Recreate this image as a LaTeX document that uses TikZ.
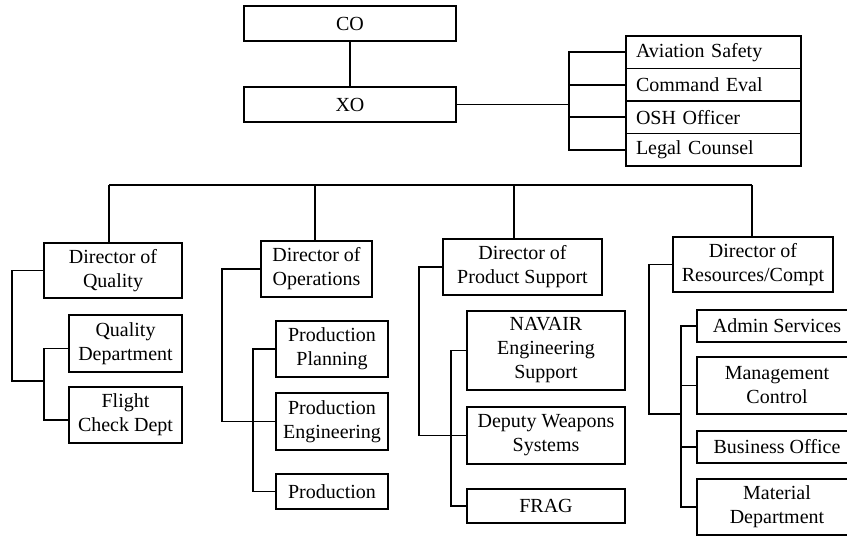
\documentclass[tikz,border=0pt]{standalone}
\usepackage{fontspec}
\setmainfont{Liberation Serif}
\begin{document}
\begin{tikzpicture}[x=1pt,y=-1pt,
  box/.style={draw, line width=1.7pt, inner sep=0pt, align=center, font=\fontsize{20}{24}\selectfont},
  staff/.style={box, text width=155pt, inner xsep=10pt, align=left, minimum height=32.5pt},
  ln/.style={line width=1.7pt}]
\useasboundingbox (0,0) rectangle (847,538);
% top
\node[box, minimum width=212pt, minimum height=35pt] (co) at (350,23.5) {CO};
\node[box, minimum width=212pt, minimum height=35pt] (xo) at (350,104.5) {XO};
\node[staff] (as) at (713.5,52.25) {Aviation Safety};
\node[staff] (ce) at (713.5,84.75) {Command Eval};
\node[staff] (osh) at (713.5,117.25) {OSH Officer};
\node[staff] (lc) at (713.5,149.75) {Legal Counsel};
\coordinate (sb) at (569,0);
\draw[ln] (co) -- (xo);
\draw[ln] (xo.east) -- (xo.east -| sb);
\draw[ln] (as.west) -- (as.west -| sb) -- (lc.west -| sb) -- (lc.west);
\draw[ln] (ce.west) -- (ce.west -| sb);
\draw[ln] (osh.west) -- (osh.west -| sb);
% directors
\node[box, minimum width=138pt, minimum height=55pt] (dq) at (113,270.5) {Director of\\Quality};
\node[box, minimum width=111pt, minimum height=56pt] (dop) at (316.5,269) {Director of\\Operations};
\node[box, minimum width=159pt, minimum height=56pt] (dps) at (522.5,267) {Director of\\Product Support};
\node[box, minimum width=160pt, minimum height=55pt] (dr) at (753,264.5) {Director of\\Resources/Compt};
\coordinate (b1) at (109,185);
\coordinate (b2) at (315,185);
\coordinate (b3) at (514,185);
\coordinate (b4) at (752,185);
\draw[ln] (b1) -- (b4);
\draw[ln] (b1) -- (b1 |- dq.north);
\draw[ln] (b2) -- (b2 |- dop.north);
\draw[ln] (b3) -- (b3 |- dps.north);
\draw[ln] (b4) -- (b4 |- dr.north);
% quality
\node[box, minimum width=113pt, minimum height=57pt] (qd) at (125.5,343.5) {Quality\\Department};
\node[box, minimum width=113pt, minimum height=56pt] (fc) at (125.5,415) {Flight\\Check Dept};
\coordinate (qo) at (12,381);
\coordinate (qj) at (44,381);
\coordinate (qdt) at ([yshift=-5pt]qd.west);
\coordinate (fct) at ([yshift=-5pt]fc.west);
\draw[ln] (dq.west) -| (qo) -- (qj);
\draw[ln] (qdt) -- (qdt -| qj) -- (fct -| qj) -- (fct);
% operations
\node[box, minimum width=112pt, minimum height=56pt] (pp) at (332,349) {Production\\Planning};
\node[box, minimum width=112pt, minimum height=57pt] (pe) at (332,421.5) {Production\\Engineering};
\node[box, minimum width=112pt, minimum height=35pt] (pr) at (332,491.5) {Production};
\coordinate (oo) at (222,0);
\coordinate (oi) at (253,0);
\draw[ln] (dop.west) -| (pe.west -| oo) -- (pe.west);
\draw[ln] (pp.west) -- (pp.west -| oi) -- (pr.west -| oi) -- (pr.west);
% product support
\node[box, minimum width=158pt, minimum height=79pt] (nv) at (546,350.5) {NAVAIR\\Engineering\\Support};
\node[box, minimum width=158pt, minimum height=57pt] (dw) at (546,435.5) {Deputy Weapons\\Systems};
\node[box, minimum width=158pt, minimum height=34pt] (fr) at (546,506) {FRAG};
\coordinate (po) at (419,0);
\coordinate (pi) at (451,0);
\draw[ln] (dps.west) -| (dw.west -| po) -- (dw.west);
\draw[ln] (nv.west) -- (nv.west -| pi) -- (fr.west -| pi) -- (fr.west);
% resources
\node[box, minimum width=160pt, minimum height=32pt] (ads) at (777,326) {Admin Services};
\node[box, minimum width=160pt, minimum height=57pt] (mc) at (777,385.5) {Management\\Control};
\node[box, minimum width=160pt, minimum height=32pt] (bo) at (777,447) {Business Office};
\node[box, minimum width=160pt, minimum height=56pt] (md) at (777,507) {Material\\Department};
\coordinate (ro) at (649,0);
\coordinate (rj) at (681,414);
\draw[ln] (dr.west) -| (rj -| ro) -- (rj);
\draw[ln] (ads.west) -- (ads.west -| rj) -- (md.west -| rj) -- (md.west);
\draw[ln] (mc.west) -- (mc.west -| rj);
\draw[ln] (bo.west) -- (bo.west -| rj);
\end{tikzpicture}
\end{document}
